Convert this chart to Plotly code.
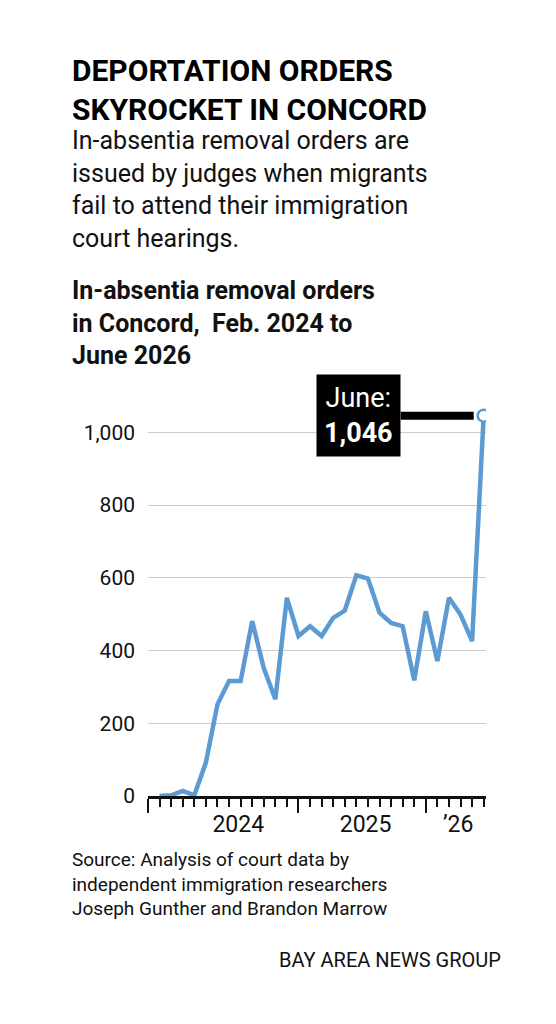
import plotly.graph_objects as go

months = list(range(29))  # Feb 2024 .. June 2026
orders = [0, 2, 14, 2, 92, 252, 316, 316, 481, 352, 266, 545, 440, 467, 440, 490, 510,
          607, 598, 504, 476, 467, 318, 508, 371, 545, 499, 426, 1046]
year_ticks = [-1, 12, 23]
year_label_pos = [6.8, 17.8, 25.8]
year_labels = ["2024", "2025", "’26"]
y_ticks = [0, 200, 400, 600, 800, 1000]
y_labels = ["0", "200", "400", "600", "800", "1,000"]

blue = "#5b9bd1"
fig = go.Figure()
fig.add_trace(go.Scatter(x=months, y=orders, mode="lines", line=dict(color=blue, width=4.5),
                         showlegend=False, hoverinfo="skip"))
fig.add_trace(go.Scatter(x=[months[-1]], y=[orders[-1]], mode="markers",
                         marker=dict(size=12, color="white", line=dict(color=blue, width=2.5)),
                         showlegend=False))
fig.add_trace(go.Scatter(x=year_label_pos, y=[0, 0, 0], xaxis="x2", mode="markers",
                         marker=dict(opacity=0), showlegend=False, hoverinfo="skip"))

fig.update_layout(
    width=556, height=1024, plot_bgcolor="white", paper_bgcolor="white",
    margin=dict(l=140, r=78, t=388, b=236),
    font=dict(family="Roboto", color="#111"),
    xaxis=dict(range=[-1, 28.2], tickmode="array", tickvals=year_ticks, ticktext=["", "", ""],
               ticks="outside", ticklen=14, tickwidth=2, tickcolor="#111",
               minor=dict(dtick=1, tick0=-1, ticks="outside", ticklen=8, tickwidth=2, tickcolor="#111"),
               showgrid=False, zeroline=False, showline=True, linecolor="#111", linewidth=3),
    xaxis2=dict(range=[-1, 28.2], overlaying="x", tickmode="array", tickvals=year_label_pos,
                ticktext=year_labels, ticks="", showgrid=False, zeroline=False, side="bottom",
                tickfont=dict(size=23, color="#111"), anchor="y", ticklabelstandoff=12),
    yaxis=dict(range=[0, 1100], tickmode="array", tickvals=y_ticks, ticktext=y_labels,
               showgrid=True, gridcolor="#cccccc", gridwidth=1, zeroline=False,
               tickfont=dict(size=21, color="#111"), ticklabelstandoff=12),
)

fig.add_annotation(x=months[-1], y=orders[-1], text="June:<br><b>1,046</b>", showarrow=True,
                   ax=-125, ay=0, arrowhead=0, arrowwidth=8, arrowcolor="black", standoff=10,
                   bgcolor="black", font=dict(color="white", size=27), borderpad=7, align="center")

fig.add_annotation(xref="paper", yref="paper", x=-0.23, y=1.0, yshift=345, xanchor="left", yanchor="top",
                   showarrow=False, align="left",
                   text="<b>DEPORTATION ORDERS<br>SKYROCKET IN CONCORD</b>",
                   font=dict(size=30, color="black", family="Roboto", weight=900))
fig.add_annotation(xref="paper", yref="paper", x=-0.23, y=1.0, yshift=272, xanchor="left", yanchor="top",
                   showarrow=False, align="left",
                   text="In-absentia removal orders are<br>issued by judges when migrants<br>fail to attend their immigration<br>court hearings.",
                   font=dict(size=25, color="#111"))
fig.add_annotation(xref="paper", yref="paper", x=-0.23, y=1.0, yshift=122, xanchor="left", yanchor="top",
                   showarrow=False, align="left",
                   text="<b>In-absentia removal orders<br>in Concord,  Feb. 2024 to<br>June 2026</b>",
                   font=dict(size=25, color="#111"))
fig.add_annotation(xref="paper", yref="paper", x=-0.23, y=0, yshift=-50, xanchor="left", yanchor="top",
                   showarrow=False, align="left",
                   text="Source: Analysis of court data by<br>independent immigration researchers<br>Joseph Gunther and Brandon Marrow",
                   font=dict(size=19, color="#111"))
fig.add_annotation(xref="paper", yref="paper", x=1.05, y=0, yshift=-150, xanchor="right", yanchor="top",
                   showarrow=False, text="BAY AREA NEWS GROUP", font=dict(size=20, color="#111"))

fig.write_html("out.html")
